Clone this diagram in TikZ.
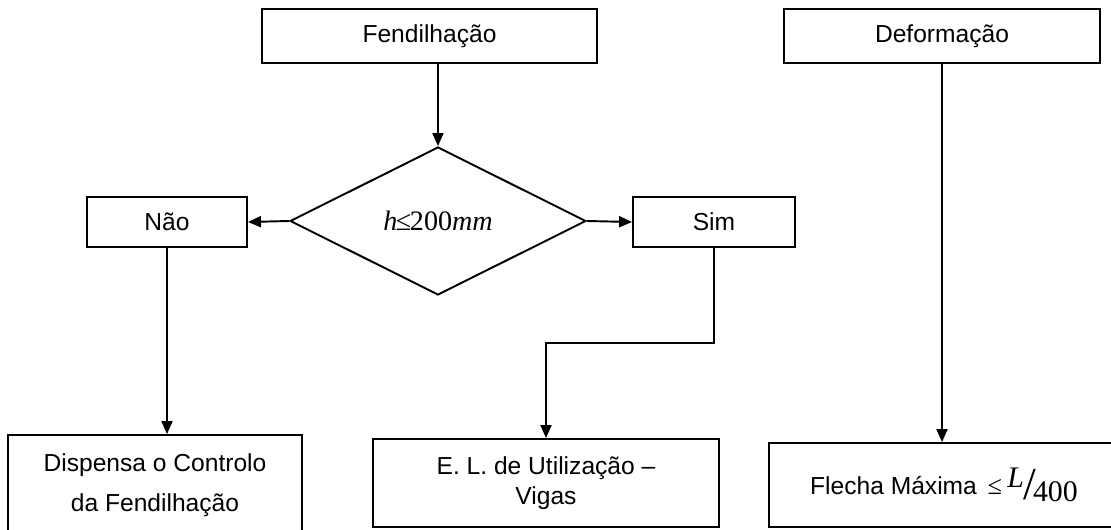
\documentclass[tikz,border=0pt]{standalone}
\usepackage{fontspec}
\setmainfont{Liberation Sans}
\newfontfamily\tnr{Liberation Serif}
\usepackage{tikz}
\usetikzlibrary{shapes.geometric,arrows.meta,calc,positioning}
\tikzset{
    -{Triangle[length=0.26cm,width=0.22cm]},
    box/.style ={rectangle, draw, inner sep=0pt, align=center,
                 font=\fontsize{14}{17}\selectfont},
    test/.style ={diamond, draw, inner sep=0pt, aspect=2},
}
\begin{document}
\begin{tikzpicture}[x=0.02cm,y=-0.02cm,line width=1.1pt]
    \useasboundingbox (0,0) rectangle (1111,530);
    % top boxes
    \node[box, minimum width=6.7cm, minimum height=1.08cm] (fend) at (429.5,36) {Fendilha\c{c}\~ao};
    \node[box, minimum width=6.32cm, minimum height=1.08cm] (defor) at (942,36) {Deforma\c{c}\~ao};
    % decision
    \node[test, minimum width=5.92cm, minimum height=2.96cm] (dec) at (438,221)
        {\tnr\fontsize{16}{18}\selectfont\textit{h}\kern-0.05em≤\kern-0.05em200\textit{mm}};
    \node[box, minimum width=3.2cm, minimum height=1cm] (nao) at (167,222) {N\~ao};
    \node[box, minimum width=3.24cm, minimum height=1cm] (sim) at (714,222) {Sim};
    % bottom boxes
    \node[box, minimum width=5.88cm, minimum height=2cm,
          font=\fontsize{14}{22.5}\selectfont] (disp) at (155,485)
        {Dispensa o Controlo\\da Fendilha\c{c}\~ao};
    \node[box, minimum width=6.92cm, minimum height=1.76cm] (util) at (546,483)
        {E. L. de Utiliza\c{c}\~ao --\\Vigas};
    \node[box, minimum width=7cm, minimum height=1.68cm] (flecha) at (944,485)
        {Flecha M\'axima {\tnr\fontsize{15}{17}\selectfont\kern0.15em≤\kern0.2em\raisebox{0.6ex}{\fontsize{17}{19}\selectfont\textit{L}}\kern-0.02em\raisebox{-0.4ex}{\fontsize{26}{28}\selectfont/}\kern-0.12em\raisebox{-0.6ex}{\fontsize{17}{19}\selectfont 400}}};

    % connectors
    \path (fend.south -| dec.north) edge (dec.north);
    \path (dec.west) edge (nao.east);
    \path (dec.east) edge (sim.west);
    \path (nao.south) edge (nao.south |- disp.north);
    \draw (sim.south) |- ($(sim.south)!0.5!(util.north)$) -| (util.north);
    \path (defor.south) edge (defor.south |- flecha.north);
\end{tikzpicture}
\end{document}
